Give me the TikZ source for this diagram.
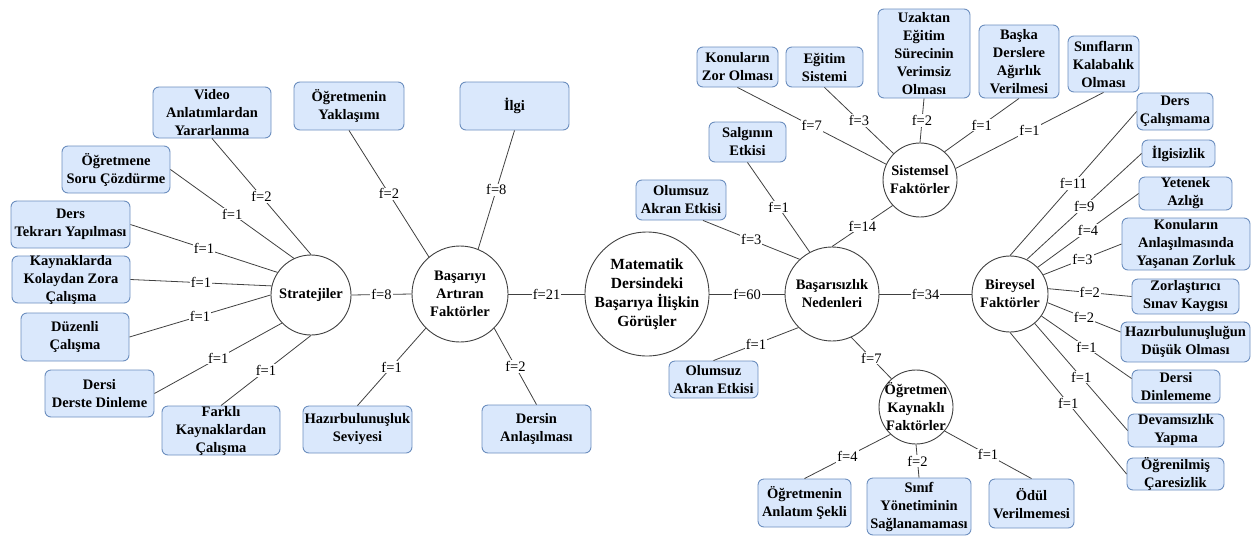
\documentclass[tikz,border=0pt]{standalone}
\usepackage{fontspec}
\setmainfont{Liberation Serif}
\definecolor{bfill}{HTML}{DAE8FC}
\definecolor{bline}{HTML}{6C8EBF}
\definecolor{eline}{HTML}{404040}
\tikzset{
  bx/.style={draw=bline, fill=bfill, rounded corners=6pt, line width=0.9pt, inner sep=0pt},
  btext/.style={font=\fontsize{14.5}{18}\selectfont\bfseries, align=center, inner sep=0pt},
  circ/.style={circle, draw=eline, fill=white, line width=0.9pt, inner sep=0pt},
  ctext/.style={font=\fontsize{14.5}{18}\selectfont\bfseries, align=center, inner sep=0pt},
  mtext/.style={font=\fontsize{15.5}{19}\selectfont\bfseries, align=center, inner sep=0pt},
  edge/.style={draw=eline, line width=0.8pt},
  lbl/.style={font=\fontsize{14.5}{16}\selectfont, fill=white, inner sep=1pt, midway}
}
\begin{document}
\begin{tikzpicture}[x=1pt,y=-1pt]
\useasboundingbox (0,0) rectangle (1252,536);

% circles
\node[circ, minimum size=80, label={[ctext]center:{Stratejiler}}] (s) at (311,295) {};
\node[circ, minimum size=96, label={[ctext]center:{Başarıyı\\Artıran\\Faktörler}}] (ba) at (460,294) {};
\node[circ, minimum size=124, label={[mtext]center:{Matematik\\Dersindeki\\Başarıya İlişkin\\Görüşler}}] (mat) at (647,294) {};
\node[circ, minimum size=94, label={[ctext]center:{Başarısızlık\\Nedenleri}}] (bn) at (832,294) {};
\node[circ, minimum size=74, label={[ctext]center:{Sistemsel\\Faktörler}}] (sf) at (920,180) {};
\node[circ, minimum size=76, label={[ctext]center:{Bireysel\\Faktörler}}] (bf) at (1010,294) {};
\node[circ, minimum size=74, label={[ctext]center:{Öğretmen\\Kaynaklı\\Faktörler}}] (ok) at (916,407) {};

% left boxes
\node[bx, minimum width=118, minimum height=51, label={[btext]center:{Video\\Anlatımlardan\\Yararlanma}}] (video) at (212,112.5) {};
\node[bx, minimum width=108, minimum height=47, label={[btext]center:{Öğretmene\\Soru Çözdürme}}] (ogretmene) at (116,169.5) {};
\node[bx, minimum width=119, minimum height=47, label={[btext]center:{Ders\\Tekrarı Yapılması}}] (derstekrar) at (70.5,224.5) {};
\node[bx, minimum width=118, minimum height=47, label={[btext]center:{Kaynaklarda\\Kolaydan Zora\\Çalışma}}] (kaynaklarda) at (71,279.5) {};
\node[bx, minimum width=108, minimum height=48, label={[btext]center:{Düzenli\\Çalışma}}] (duzenli) at (75,337) {};
\node[bx, minimum width=109, minimum height=47, label={[btext]center:{Dersi\\Derste Dinleme}}] (dersiderste) at (99.5,393.5) {};
\node[bx, minimum width=118, minimum height=49, label={[btext]center:{Farklı\\Kaynaklardan\\Çalışma}}] (farkli) at (221,430.5) {};
\node[bx, minimum width=109, minimum height=47, label={[btext]center:{Hazırbulunuşluk\\Seviyesi}}] (hazir) at (357.5,429.5) {};
\node[bx, minimum width=110, minimum height=48, label={[btext]center:{Öğretmenin\\Yaklaşımı}}] (yaklasim) at (349,106) {};
\node[bx, minimum width=109, minimum height=48, label={[btext]center:{İlgi}}] (ilgi) at (514.5,106) {};
\node[bx, minimum width=109, minimum height=48, label={[btext]center:{Dersin\\Anlaşılması}}] (dersin) at (536.5,429) {};

% right boxes
\node[bx, minimum width=81, minimum height=40, label={[btext]center:{Konuların\\Zor Olması}}] (konzor) at (737.5,67) {};
\node[bx, minimum width=77, minimum height=40, label={[btext]center:{Eğitim\\Sistemi}}] (egitim) at (824.5,67) {};
\node[bx, minimum width=92, minimum height=89, label={[btext]center:{Uzaktan\\Eğitim\\Sürecinin\\Verimsiz\\Olması}}] (uzaktan) at (924,53.5) {};
\node[bx, minimum width=80, minimum height=73, label={[btext]center:{Başka\\Derslere\\Ağırlık\\Verilmesi}}] (baska) at (1019,61.5) {};
\node[bx, minimum width=71, minimum height=56, label={[btext]center:{Sınıfların\\Kalabalık\\Olması}}] (siniflar) at (1103.5,64) {};
\node[bx, minimum width=76, minimum height=37, label={[btext]center:{Ders\\Çalışmama}}] (derscalis) at (1175,111.5) {};
\node[bx, minimum width=73, minimum height=27, label={[btext]center:{İlgisizlik}}] (ilgisiz) at (1178.5,153.5) {};
\node[bx, minimum width=93, minimum height=33, label={[btext]center:{Yetenek\\Azlığı}}] (yetenek) at (1185.5,193.5) {};
\node[bx, minimum width=128, minimum height=52, label={[btext]center:{Konuların\\Anlaşılmasında\\Yaşanan Zorluk}}] (konanl) at (1186,244) {};
\node[bx, minimum width=107, minimum height=35, label={[btext]center:{Zorlaştırıcı\\Sınav Kaygısı}}] (zorsinav) at (1185.5,296.5) {};
\node[bx, minimum width=129, minimum height=40, label={[btext]center:{Hazırbulunuşluğun\\Düşük Olması}}] (hazirdusuk) at (1185.5,342) {};
\node[bx, minimum width=88, minimum height=33, label={[btext]center:{Dersi\\Dinlememe}}] (dersidinle) at (1176,386.5) {};
\node[bx, minimum width=96, minimum height=33, label={[btext]center:{Devamsızlık\\Yapma}}] (devam) at (1176,430.5) {};
\node[bx, minimum width=97, minimum height=32, label={[btext]center:{Öğrenilmiş\\Çaresizlik}}] (ogrenil) at (1175.5,474) {};
\node[bx, minimum width=85, minimum height=49, label={[btext]center:{Ödül\\Verilmemesi}}] (odul) at (1031.5,503.5) {};
\node[bx, minimum width=104, minimum height=57, label={[btext]center:{Sınıf\\Yönetiminin\\Sağlanamaması}}] (sinifyon) at (919,506.5) {};
\node[bx, minimum width=93, minimum height=48, label={[btext]center:{Öğretmenin\\Anlatım Şekli}}] (anlatim) at (804.5,503) {};
\node[bx, minimum width=90, minimum height=40, label={[btext]center:{Olumsuz\\Akran Etkisi}}] (olumsuza) at (681,200) {};
\node[bx, minimum width=77, minimum height=40, label={[btext]center:{Salgının\\Etkisi}}] (salgin) at (747.5,142) {};
\node[bx, minimum width=89, minimum height=37, label={[btext]center:{Olumsuz\\Akran Etkisi}}] (olumsuzb) at (713.5,379.5) {};

% edges: Stratejiler
\draw[edge] (s.90) -- (video.south) node[lbl] (l1) {f=2};
\draw[edge] (s.115) -- (ogretmene.east) node[lbl] (l2) {f=1};
\draw[edge] (s.146) -- (derstekrar.east) node[lbl] (l3) {f=1};
\draw[edge] (s.167) -- (kaynaklarda.east) node[lbl] (l4) {f=1};
\draw[edge] (s.180) -- (duzenli.east) node[lbl] (l5) {f=1};
\draw[edge] (s.224) -- (dersiderste.east) node[lbl] (l6) {f=1};
\draw[edge] (s.270) -- (farkli.north) node[lbl] (l7) {f=1};
\draw[edge] (s.east) -- (ba.west) node[lbl] (l8) {f=8};

% Başarıyı Artıran
\draw[edge] (ba.130) -- (yaklasim.south) node[lbl] (l9) {f=2};
\draw[edge] (ba.68) -- (ilgi.south) node[lbl] (l10) {f=8};
\draw[edge] (ba.225) -- (hazir.north) node[lbl] (l11) {f=1};
\draw[edge] (ba.-45) -- (dersin.north) node[lbl] (l12) {f=2};
\draw[edge] (ba.east) -- (mat.west) node[lbl] (l13) {f=21};

% Matematik -- Başarısızlık
\draw[edge] (mat.east) -- (bn.west) node[lbl] (l14) {f=60};

% Başarısızlık
\draw[edge] (bn.133) -- ([xshift=22pt]olumsuza.south) node[lbl] (l15) {f=3};
\draw[edge] (bn.118) -- (salgin.south) node[lbl] (l16) {f=1};
\draw[edge] (bn.90) -- (sf.223) node[lbl] (l17) {f=14};
\draw[edge] (bn.east) -- (bf.west) node[lbl] (l18) {f=34};
\draw[edge] (bn.225) -- (olumsuzb.north) node[lbl] (l19) {f=1};
\draw[edge] (bn.-66) -- (ok.131) node[lbl] (l20) {f=7};

% Sistemsel
\draw[edge] (sf.155) -- (konzor.south) node[lbl] (l21) {f=7};
\draw[edge] (sf.135) -- (egitim.south) node[lbl] (l22) {f=3};
\draw[edge] (sf.90) -- (uzaktan.south) node[lbl] (l23) {f=2};
\draw[edge] (sf.49) -- (baska.south) node[lbl] (l24) {f=1};
\draw[edge] (sf.18) -- (siniflar.south) node[lbl] (l25) {f=1};

% Bireysel
\draw[edge] (bf.90) -- (derscalis.west) node[lbl] (l26) {f=11};
\draw[edge] (bf.64) -- (ilgisiz.west) node[lbl] (l27) {f=9};
\draw[edge] (bf.44) -- (yetenek.west) node[lbl] (l28) {f=4};
\draw[edge] (bf.30) -- (konanl.west) node[lbl] (l29) {f=3};
\draw[edge] (bf.8) -- (zorsinav.west) node[lbl] (l30) {f=2};
\draw[edge] (bf.-13) -- ([yshift=10pt]hazirdusuk.west) node[lbl] (l31) {f=2};
\draw[edge] (bf.-35) -- ([yshift=8pt]dersidinle.west) node[lbl] (l32) {f=1};
\draw[edge] (bf.-50) -- (devam.west) node[lbl] (l33) {f=1};
\draw[edge] (bf.-90) -- (ogrenil.west) node[lbl] (l34) {f=1};

% Öğretmen Kaynaklı
\draw[edge] (ok.227) -- (anlatim.north) node[lbl] (l35) {f=4};
\draw[edge] (ok.-90) -- (sinifyon.north) node[lbl] (l36) {f=2};
\draw[edge] (ok.-40) -- (odul.north) node[lbl] (l37) {f=1};
\end{tikzpicture}
\end{document}
